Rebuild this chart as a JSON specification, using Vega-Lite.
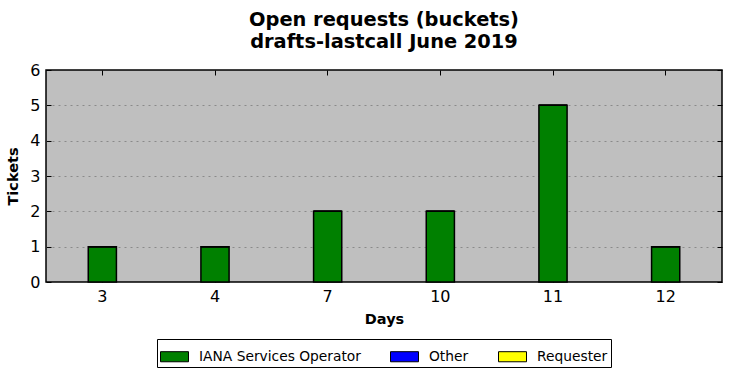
{
  "$schema": "https://vega.github.io/schema/vega-lite/v6.json",
  "width": 676,
  "height": 212,
  "autosize": {"type": "none"},
  "padding": {"left": 46, "top": 70, "right": 10, "bottom": 96},
  "background": "white",
  "config": {
    "font": "DejaVu Sans",
    "view": {"fill": "#bfbfbf", "stroke": "black", "strokeWidth": 1.5}
  },
  "title": {
    "text": ["Open requests (buckets)", "drafts-lastcall June 2019"],
    "font": "DejaVu Sans",
    "fontSize": 19.4,
    "fontWeight": "bold",
    "color": "black",
    "anchor": "middle",
    "offset": 10,
    "lineHeight": 22
  },
  "data": {
    "values": [
      {"day": "3", "group": "IANA Services Operator", "tickets": 1},
      {"day": "4", "group": "IANA Services Operator", "tickets": 1},
      {"day": "7", "group": "IANA Services Operator", "tickets": 2},
      {"day": "10", "group": "IANA Services Operator", "tickets": 2},
      {"day": "11", "group": "IANA Services Operator", "tickets": 5},
      {"day": "12", "group": "IANA Services Operator", "tickets": 1},
      {"day": "3", "group": "Other", "tickets": 0},
      {"day": "4", "group": "Other", "tickets": 0},
      {"day": "7", "group": "Other", "tickets": 0},
      {"day": "10", "group": "Other", "tickets": 0},
      {"day": "11", "group": "Other", "tickets": 0},
      {"day": "12", "group": "Other", "tickets": 0},
      {"day": "3", "group": "Requester", "tickets": 0},
      {"day": "4", "group": "Requester", "tickets": 0},
      {"day": "7", "group": "Requester", "tickets": 0},
      {"day": "10", "group": "Requester", "tickets": 0},
      {"day": "11", "group": "Requester", "tickets": 0},
      {"day": "12", "group": "Requester", "tickets": 0}
    ]
  },
  "resolve": {"axis": {"x": "independent", "y": "independent"}},
  "layer": [
    {
      "mark": {"type": "bar", "stroke": "black", "strokeWidth": 1.5},
      "encoding": {
        "x": {
          "field": "day",
          "type": "ordinal",
          "sort": ["3", "4", "7", "10", "11", "12"],
          "scale": {"paddingInner": 0.75, "paddingOuter": 0.375},
          "axis": {
            "title": "Days",
            "titleFontSize": 14.5,
            "titleFontWeight": "bold",
            "titleColor": "black",
            "titlePadding": 8,
            "labelFontSize": 16,
            "labelColor": "black",
            "labelAngle": 0,
            "labelPadding": 11,
            "tickSize": -5,
            "tickColor": "black",
            "domain": false,
            "grid": false
          }
        },
        "y": {
          "field": "tickets",
          "type": "quantitative",
          "stack": "zero",
          "scale": {"domain": [0, 6], "nice": false},
          "axis": {
            "title": "Tickets",
            "titleFontSize": 14.5,
            "titleFontWeight": "bold",
            "titleColor": "black",
            "titlePadding": 9,
            "labelFontSize": 16,
            "labelColor": "black",
            "labelPadding": 11,
            "labelOverlap": false,
            "tickSize": -5,
            "tickColor": "black",
            "values": [0, 1, 2, 3, 4, 5, 6],
            "domain": false,
            "grid": true,
            "gridColor": "#8a8a8a",
            "gridDash": [2, 4],
            "gridWidth": 1,
            "gridOpacity": {"condition": {"test": "datum.value === 0 || datum.value === 6", "value": 0}, "value": 1}
          }
        },
        "color": {
          "field": "group",
          "type": "nominal",
          "scale": {
            "domain": ["IANA Services Operator", "Other", "Requester"],
            "range": ["#008000", "#0000ff", "#ffff00"]
          },
          "legend": {
            "title": null,
            "orient": "none",
            "direction": "horizontal",
            "legendX": 111,
            "legendY": 269,
            "symbolType": "M-1,-0.36L1,-0.36L1,0.36L-1,0.36Z",
            "symbolSize": 784,
            "symbolStrokeColor": "black",
            "symbolStrokeWidth": 1,
            "symbolOpacity": 1,
            "labelFontSize": 13.8,
            "labelLimit": 400,
            "labelColor": "black",
            "labelOffset": 10,
            "columnPadding": 27,
            "padding": 3,
            "strokeColor": "black",
            "fillColor": "white"
          }
        },
        "order": {"field": "group", "type": "nominal"}
      }
    },
    {
      "mark": {"type": "bar", "opacity": 0},
      "encoding": {
        "x": {
          "field": "day",
          "type": "ordinal",
          "sort": ["3", "4", "7", "10", "11", "12"],
          "axis": {
            "orient": "top",
            "title": null,
            "labels": false,
            "domain": false,
            "grid": false,
            "tickSize": -5,
            "tickColor": "black"
          }
        },
        "y": {
          "field": "tickets",
          "type": "quantitative",
          "stack": "zero",
          "axis": {
            "orient": "right",
            "title": null,
            "labels": false,
            "domain": false,
            "grid": false,
            "values": [0, 1, 2, 3, 4, 5, 6],
            "tickSize": -5,
            "tickColor": "black"
          }
        }
      }
    }
  ]
}
